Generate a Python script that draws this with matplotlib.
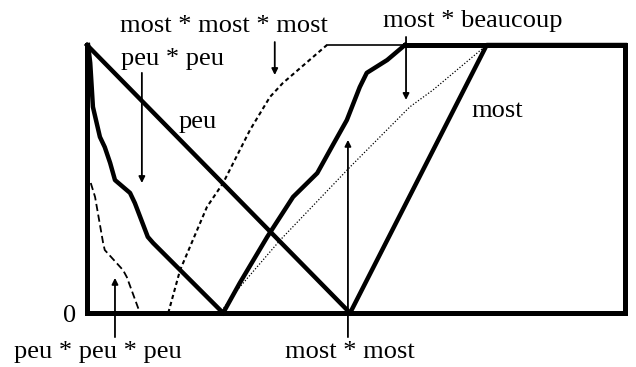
import numpy as np
import matplotlib
matplotlib.use("Agg")
import matplotlib.pyplot as plt

plt.rcParams['font.family'] = ['Liberation Serif', 'DejaVu Serif']

# membership curves, x on 0..100, degree on 0..1
peu_x = [0, 48.9]
peu_y = [1, 0]

most_x = [48.9, 74.3, 100]
most_y = [0, 1, 1]

peu2_x = [0.2, 0.6, 1.1, 2.4, 3.3, 4.3, 5.2, 8.0, 8.9, 11.3, 12.3, 25.3]
peu2_y = [1.0, 0.933, 0.769, 0.657, 0.619, 0.56, 0.496, 0.448, 0.41, 0.284, 0.261, 0]

peu3_x = [0.7, 1.5, 3.0, 3.3, 6.7, 7.4, 9.5, 9.9]
peu3_y = [0.485, 0.433, 0.261, 0.235, 0.16, 0.134, 0.019, 0]

most3_x = [15.1, 17.3, 22.3, 25.3, 30.3, 34.0, 36.4, 44.6]
most3_y = [0, 0.16, 0.396, 0.485, 0.683, 0.806, 0.858, 1.0]

most2_x = [24.7, 28.4, 35.9, 48.9, 60.0, 64.3, 74.3]
most2_y = [0, 0.097, 0.272, 0.545, 0.769, 0.832, 1.0]

mostb_x = [25.3, 28.4, 33.5, 38.3, 42.8, 45.7, 48.3, 50.7, 52.0, 55.8, 59.1]
mostb_y = [0, 0.112, 0.284, 0.433, 0.522, 0.627, 0.72, 0.843, 0.896, 0.944, 1.0]

fig = plt.figure(figsize=(6.36, 3.67), dpi=100)
ax = fig.add_axes([87/636, 54/367, 538/636, 268/367])
ax.set_xlim(0, 100)
ax.set_ylim(0, 1)
ax.axis('off')

lw_thick = 3.2
# frame: left, bottom, right, top (only where curves sit at 1)
ax.plot([0, 0], [0, 1], color='k', lw=3.6, solid_capstyle='projecting', clip_on=False)
ax.plot([0, 100], [0, 0], color='k', lw=3.6, solid_capstyle='projecting', clip_on=False)
ax.plot([100, 100], [0, 1], color='k', lw=3.6, solid_capstyle='projecting', clip_on=False)
ax.plot([mostb_x[-1], 100], [1, 1], color='k', lw=3.6, solid_capstyle='projecting', clip_on=False)
ax.plot([most3_x[-1], mostb_x[-1]], [1, 1], color='k', lw=1.2, clip_on=False)

ax.plot(peu_x, peu_y, color='k', lw=lw_thick, clip_on=False)
ax.plot(most_x, most_y, color='k', lw=lw_thick, clip_on=False)
ax.plot(peu2_x, peu2_y, color='k', lw=lw_thick, clip_on=False)
ax.plot(mostb_x, mostb_y, color='k', lw=lw_thick, clip_on=False)
ax.plot(peu3_x, peu3_y, color='k', lw=1.3, ls=(0, (4, 2)), clip_on=False)
ax.plot(most3_x, most3_y, color='k', lw=1.5, ls=(0, (2, 1.5)), clip_on=False)
ax.plot(most2_x, most2_y, color='k', lw=0.9, ls=(0, (1, 1.5)), clip_on=False)

fs = 19
arrow = dict(arrowstyle='-|>', lw=1.3, mutation_scale=9, color='k', shrinkA=0, shrinkB=0)

ax.text(25.5, 1.049, 'most * most * most', fontsize=fs, ha='center', va='baseline')
ax.text(15.8, 0.925, 'peu * peu', fontsize=fs, ha='center', va='baseline')
ax.text(20.6, 0.69, 'peu', fontsize=fs, ha='center', va='baseline')
ax.text(71.7, 1.067, 'most * beaucoup', fontsize=fs, ha='center', va='baseline')
ax.text(76.2, 0.731, 'most', fontsize=fs, ha='center', va='baseline')
ax.text(-3.2, -0.011, '0', fontsize=fs, ha='center', va='center')
ax.text(2.0, -0.168, 'peu * peu * peu', fontsize=fs, ha='center', va='baseline')
ax.text(48.9, -0.168, 'most * most', fontsize=fs, ha='center', va='baseline')

ax.annotate('', xy=(10.2, 0.485), xytext=(10.2, 0.896), arrowprops=arrow, annotation_clip=False)
ax.annotate('', xy=(34.9, 0.888), xytext=(34.9, 1.011), arrowprops=arrow, annotation_clip=False)
ax.annotate('', xy=(59.3, 0.795), xytext=(59.3, 1.03), arrowprops=arrow, annotation_clip=False)
ax.annotate('', xy=(5.2, 0.131), xytext=(5.2, -0.09), arrowprops=arrow, annotation_clip=False)
ax.annotate('', xy=(48.5, 0.646), xytext=(48.5, -0.09), arrowprops=arrow, annotation_clip=False)

fig.savefig('out.png', dpi=100)
